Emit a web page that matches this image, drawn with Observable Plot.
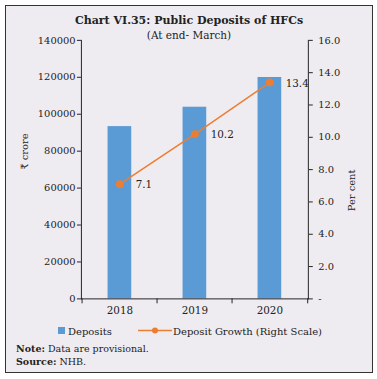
<!DOCTYPE html>
<html><head><meta charset="utf-8">
<script src="https://cdn.jsdelivr.net/npm/d3@7"></script>
<script src="https://cdn.jsdelivr.net/npm/@observablehq/plot@0.6"></script>
<style>
body{margin:0;background:#fff;font-family:"DejaVu Serif",serif;color:#222;}
#box{position:absolute;left:5px;top:5px;width:366px;height:366px;border:1px solid #333;background:#efecf1;overflow:hidden;}
#title{position:absolute;left:0;width:366px;top:8px;text-align:center;font-weight:bold;font-size:11px;}
#sub{position:absolute;left:0;width:366px;top:23px;text-align:center;font-size:10.5px;}
#chart{position:absolute;left:-6px;top:24px;}
#legend{position:absolute;top:317px;left:0;width:366px;font-size:10px;}
.note{position:absolute;left:10px;font-size:9.5px;}
</style></head>
<body>
<div id="box">
<div id="title">Chart VI.35: Public Deposits of HFCs</div>
<div id="sub">(At end- March)</div>
<div id="chart"></div>
<div id="legend"></div>
<div class="note" style="top:337px"><b>Note:</b> Data are provisional.</div>
<div class="note" style="top:350px"><b>Source:</b> NHB.</div>
</div>
<script>
const years = ["2018", "2019", "2020"];
const deposits = [93300, 103800, 119900];
const growth = [7.1, 10.2, 13.4];
const leftTicks = [0, 20000, 40000, 60000, 80000, 100000, 120000, 140000];
const rightTicks = [0, 2, 4, 6, 8, 10, 12, 14, 16];
const leftMax = 140000, rightMax = 16;
const k = leftMax / rightMax;
const blue = "#5b9bd5", orange = "#ed7d31";

const data = years.map((y, i) => ({year: y, dep: deposits[i], g: growth[i]}));

const W = 377, H = 292, mL = 82, mR = 65, mT = 10, mB = 20;
const half = (W - mL - mR) / years.length / 2;

const chart = Plot.plot({
  width: W, height: H,
  marginLeft: mL, marginRight: mR, marginTop: mT, marginBottom: mB,
  style: {background: "transparent", fontFamily: "DejaVu Serif, serif", fontSize: "10px", color: "#222"},
  x: {domain: years, paddingInner: 0.69, paddingOuter: 0.345, label: null},
  y: {domain: [0, leftMax], label: null},
  marks: [
    Plot.barY(data, {x: "year", y: "dep", fill: blue}),
    Plot.frame({anchor: "left", stroke: "#222"}),
    Plot.frame({anchor: "right", stroke: "#222"}),
    Plot.frame({anchor: "bottom", stroke: "#222"}),
    Plot.axisY({ticks: leftTicks, tickSize: 4, tickPadding: 2, tickFormat: d => String(d), label: null, fontSize: 10}),
    Plot.axisY({anchor: "right", ticks: rightTicks.map(v => v * k), tickSize: 4, tickPadding: 6,
      tickFormat: d => d === 0 ? "-" : (d / k).toFixed(1), label: null, fontSize: 10}),
    Plot.axisX({tickSize: 0, tickPadding: 8, label: null, fontSize: 10.5}),
    Plot.axisX({tickSize: 5, text: null, dx: -half, label: null}),
    Plot.axisX({ticks: [years[years.length - 1]], tickSize: 5, text: null, dx: half, label: null}),
    Plot.line(data, {x: "year", y: d => d.g * k, stroke: orange, strokeWidth: 1.5}),
    Plot.dot(data, {x: "year", y: d => d.g * k, fill: orange, r: 4}),
    Plot.text(data, {x: "year", y: d => d.g * k, text: d => d.g.toFixed(1), dx: 16, dy: 1, textAnchor: "start", fontSize: 10.5, fill: "#222"}),
    Plot.text(["₹ crore"], {frameAnchor: "left", dx: -57, rotate: -90, fontSize: 10, fill: "#222"}),
    Plot.text(["Per cent"], {frameAnchor: "right", dx: 44, rotate: -90, fontSize: 10, fill: "#222"})
  ]
});
document.getElementById("chart").appendChild(chart);

// legend
const lg = d3.select("#legend").append("svg").attr("width", 366).attr("height", 16);
lg.append("rect").attr("x", 52).attr("y", 4).attr("width", 7).attr("height", 7).attr("fill", blue);
lg.append("text").attr("x", 62).attr("y", 11.5).attr("font-size", 10).attr("fill", "#222").text("Deposits");
lg.append("line").attr("x1", 132).attr("x2", 166).attr("y1", 7.5).attr("y2", 7.5).attr("stroke", orange).attr("stroke-width", 1.5);
lg.append("circle").attr("cx", 149).attr("cy", 7.5).attr("r", 3).attr("fill", orange);
lg.append("text").attr("x", 167).attr("y", 11.5).attr("font-size", 10).attr("fill", "#222").text("Deposit Growth (Right Scale)");
</script>
</body></html>
